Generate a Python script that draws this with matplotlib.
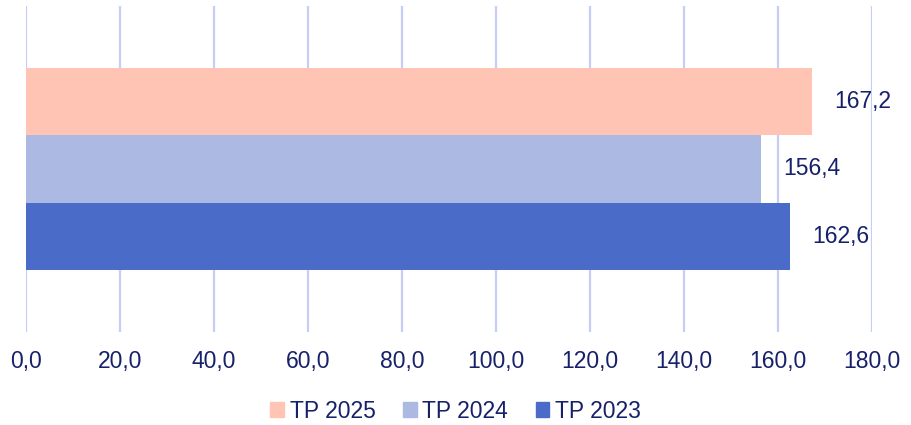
import matplotlib
matplotlib.use("Agg")
import matplotlib.pyplot as plt
from matplotlib.patches import Patch

# data
series = ["TP 2023", "TP 2024", "TP 2025"]
values = [162.6, 156.4, 167.2]
colors = ["#4A6CC8", "#ABB9E3", "#FFC4B3"]
xticks = [0, 20, 40, 60, 80, 100, 120, 140, 160, 180]

text_col = "#16216A"
grid_col = "#C6CEF6"

plt.rcParams['font.family'] = ['Liberation Sans', 'DejaVu Sans']

fig = plt.figure(figsize=(9.11, 4.25), dpi=100)
ax = fig.add_axes([26 / 911, 1 - 332 / 425, (872 - 26) / 911, (332 - 6) / 425])

ypos = list(range(len(series)))
ax.barh(ypos, values, height=1.0, color=colors, zorder=2)

for y, v in zip(ypos, values):
    ax.annotate(f"{v:.1f}".replace(".", ","), xy=(v, y), xytext=(16, 0),
                textcoords="offset points", va="center", ha="left",
                fontsize=16.5, color=text_col)

ax.set_xlim(0, 180)
ax.set_ylim(-1.41, 3.41)
ax.set_xticks(xticks)
ax.set_xticklabels([f"{t:.1f}".replace(".", ",") for t in xticks],
                   fontsize=16.5, color=text_col)
ax.set_yticks([])
ax.tick_params(axis="x", length=0, pad=13)
ax.grid(axis="x", color=grid_col, linewidth=1.6, zorder=0)
for s in ax.spines.values():
    s.set_visible(False)

handles = [Patch(color=c) for c in colors[::-1]]
leg = fig.legend(handles, series[::-1], loc="center", bbox_to_anchor=(0.5, 1 - 411 / 425),
                 ncol=3, frameon=False, fontsize=16.5, handlelength=0.6, handleheight=0.6,
                 handletextpad=0.25, columnspacing=1.2, borderpad=0)
for t in leg.get_texts():
    t.set_color(text_col)

fig.savefig("out.png", dpi=100)
